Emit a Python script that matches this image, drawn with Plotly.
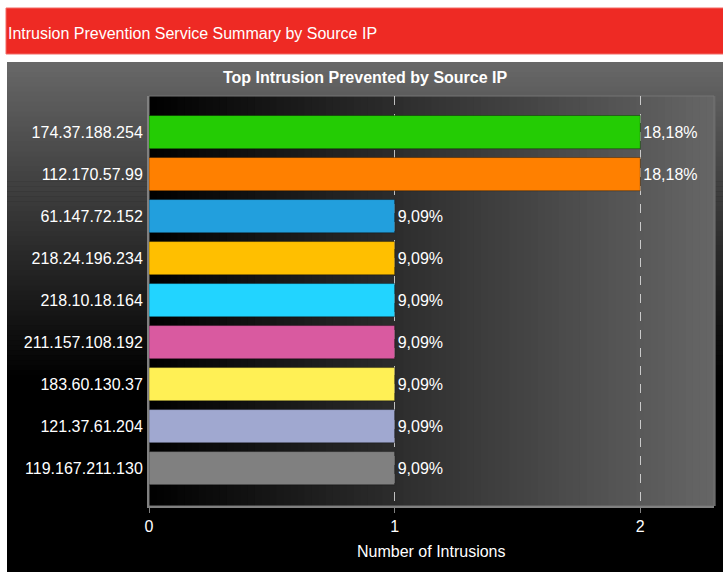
import plotly.graph_objects as go

# ---- data ----
source_ips = ["174.37.188.254", "112.170.57.99", "61.147.72.152", "218.24.196.234",
              "218.10.18.164", "211.157.108.192", "183.60.130.37", "121.37.61.204",
              "119.167.211.130"]
intrusions = [2, 2, 1, 1, 1, 1, 1, 1, 1]
bar_colors = ["#24CC04", "#FF8000", "#229FDD", "#FFBF00", "#22D4FF",
              "#D95AA0", "#FFF055", "#A0A8D0", "#808080"]
total = sum(intrusions)
pct_labels = [f"{v / total * 100:.2f}".replace(".", ",") + "%" for v in intrusions]

W, H = 723, 572
L, R, T, B = 149, 714, 96, 506  # plot area pixel bounds


def px(x):
    return (x - L) / (R - L)


def py(y):
    return (B - y) / (B - T)


FONT = "Liberation Sans, Arial, sans-serif"

fig = go.Figure()
fig.add_trace(go.Bar(
    y=source_ips, x=intrusions, orientation="h",
    marker=dict(color=bar_colors, line=dict(color="rgba(0,0,0,0.35)", width=1)),
    text=pct_labels, textposition="outside", cliponaxis=False,
    textfont=dict(color="white", size=16, family=FONT),
    hoverinfo="skip",
))

shapes = []
# red header
shapes.append(dict(type="rect", xref="paper", yref="paper",
                   x0=px(6), x1=px(724), y0=py(8), y1=py(54),
                   fillcolor="#EE2A24", line=dict(color="#F26B66", width=1), layer="below"))
# panel background (black) + vertical gradient top part
shapes.append(dict(type="rect", xref="paper", yref="paper",
                   x0=px(7), x1=px(724), y0=py(62), y1=py(573),
                   fillcolor="#000000", line=dict(width=0), layer="below"))
g_top, g_bot = 62, 380
n = 64
for i in range(n):
    y0 = g_top + (g_bot - g_top) * i / n
    y1 = g_top + (g_bot - g_top) * (i + 1) / n + 0.6
    t = (i + 0.5) / n
    c = int(round(0x68 * (1 - t)))
    shapes.append(dict(type="rect", xref="paper", yref="paper",
                       x0=px(7), x1=px(724), y0=py(y1), y1=py(y0),
                       fillcolor=f"rgb({c},{c},{c})", line=dict(width=0), layer="below"))
# plot area horizontal gradient
m = 80
for i in range(m):
    t = (i + 0.5) / m
    c = int(round(0x66 * t))
    shapes.append(dict(type="rect", xref="paper", yref="paper",
                       x0=i / m, x1=(i + 1) / m + 0.003, y0=0, y1=1,
                       fillcolor=f"rgb({c},{c},{c})", line=dict(width=0), layer="below"))
# plot area border
shapes.append(dict(type="rect", xref="paper", yref="paper", x0=0, x1=1, y0=0, y1=1,
                   fillcolor="rgba(0,0,0,0)", line=dict(color="#757575", width=1), layer="below"))

fig.update_layout(
    width=W, height=H,
    margin=dict(l=L, r=W - R, t=T, b=H - B, pad=0),
    paper_bgcolor="white", plot_bgcolor="rgba(0,0,0,0)",
    showlegend=False, bargap=0.21,
    font=dict(family=FONT, color="white", size=16),
    shapes=shapes,
    annotations=[
        dict(text="Intrusion Prevention Service Summary by Source IP", xref="paper", yref="paper",
             x=px(6), y=py(33), xanchor="left", yanchor="middle", showarrow=False,
             font=dict(size=16, color="white", family=FONT)),
        dict(text="<b>Top Intrusion Prevented by Source IP</b>", xref="paper", yref="paper",
             x=px(365), y=py(78), xanchor="center", yanchor="middle", showarrow=False,
             font=dict(size=16, color="white", family=FONT)),
        dict(text="Number of Intrusions", xref="paper", yref="paper",
             x=px(431), y=py(551), xanchor="center", yanchor="middle", showarrow=False,
             font=dict(size=16, color="white", family=FONT)),
    ],
    xaxis=dict(range=[0, 2.3], dtick=1, showgrid=True, gridcolor="rgba(230,230,230,0.8)",
               griddash="dash", gridwidth=1, zeroline=False,
               showline=True, linecolor="#808080", linewidth=2,
               ticks="outside", ticklen=5, tickcolor="#808080",
               tickfont=dict(color="white", size=16, family=FONT)),
    yaxis=dict(range=[len(source_ips) - 0.5 + 0.4, -0.5 - 0.36], showgrid=False, zeroline=False,
               showline=True, linecolor="#808080", linewidth=2, ticks="",
               ticklabelstandoff=1,
               tickfont=dict(color="white", size=16, family=FONT)),
)

fig.write_html("out.html")
